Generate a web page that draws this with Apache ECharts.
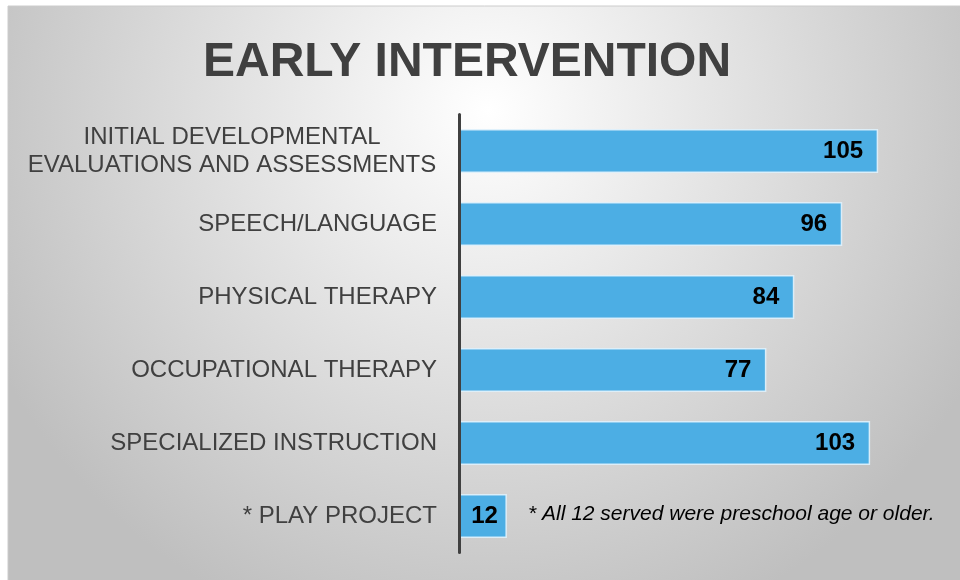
<!DOCTYPE html>
<html>
<head>
<meta charset="utf-8">
<script src="https://cdn.jsdelivr.net/npm/echarts@6/dist/echarts.min.js"></script>
<style>
    html, body {margin: 0; padding: 0; background: #ffffff;}
    #main {width: 960px; height: 580px;}
</style>
</head>
<body>
<div id="main"></div>
<script>
// 数据
var categories = [
    'INITIAL DEVELOPMENTAL\nEVALUATIONS AND ASSESSMENTS',
    'SPEECH/LANGUAGE',
    'PHYSICAL THERAPY',
    'OCCUPATIONAL THERAPY',
    'SPECIALIZED INSTRUCTION',
    '* PLAY PROJECT'
];
var served = [105, 96, 84, 77, 103, 12];
var titleText = 'EARLY INTERVENTION';
var noteText = '* All 12 served were preschool age or older.';

var fontName = '"Liberation Sans", Arial, sans-serif';
var myChart = echarts.init(document.getElementById('main'), null, {renderer: 'canvas'});

var option = {
    backgroundColor: '#ffffff',
    animation: false,
    title: {
        text: titleText,
        left: 203,
        top: 39,
        padding: 0,
        textStyle: {
            fontFamily: fontName,
            fontSize: 48,
            fontWeight: 'bold',
            color: '#404040'
        }
    },
    graphic: [{
        type: 'rect',
        z: -10,
        silent: true,
        shape: {x: 8, y: 6, width: 960, height: 580},
        style: {
            fill: {
                type: 'radial',
                x: 0.5, y: 0.18, r: 0.95,
                colorStops: [
                    {offset: 0, color: '#ffffff'},
                    {offset: 1, color: '#bfbfbf'}
                ]
            },
            stroke: '#cccccc',
            lineWidth: 1
        }
    }, {
        type: 'text',
        left: 528,
        top: 504,
        z: 10,
        style: {
            text: noteText,
            font: 'italic 21px ' + fontName,
            fill: '#000000'
        }
    }],
    grid: {
        left: 459,
        top: 114.5,
        width: 479,
        height: 438,
        containLabel: false
    },
    xAxis: {
        type: 'value',
        min: 0,
        max: 120,
        show: false
    },
    yAxis: {
        type: 'category',
        inverse: true,
        data: categories,
        axisLine: {show: true, lineStyle: {color: '#404040', width: 3}},
        axisTick: {show: false},
        splitLine: {show: false},
        axisLabel: {
            margin: 22,
            fontFamily: fontName,
            fontSize: 24,
            lineHeight: 28,
            color: '#404040',
            align: 'right',
            // 两行标签居中对齐
            formatter: function (val) {
                if (val.indexOf('\n') < 0) return val;
                return val.split('\n').map(function (s) {
                    return '{ml|' + s + '}';
                }).join('\n');
            },
            rich: {
                ml: {
                    width: 410,
                    align: 'center',
                    fontFamily: fontName,
                    fontSize: 24,
                    lineHeight: 28,
                    color: '#404040'
                }
            }
        },
        z: 5
    },
    series: [{
        type: 'bar',
        barWidth: 44,
        data: served.map(function (v) {
            var item = {value: v};
            if (v < 20) {
                item.label = {distance: 9};
            }
            return item;
        }),
        itemStyle: {
            color: '#4caee4',
            borderColor: 'rgba(225,242,252,0.9)',
            borderWidth: 1.5
        },
        label: {
            show: true,
            position: 'insideRight',
            distance: 15,
            fontFamily: fontName,
            fontSize: 24,
            fontWeight: 'bold',
            color: '#000000'
        }
    }]
};
myChart.setOption(option);
</script>
</body>
</html>
